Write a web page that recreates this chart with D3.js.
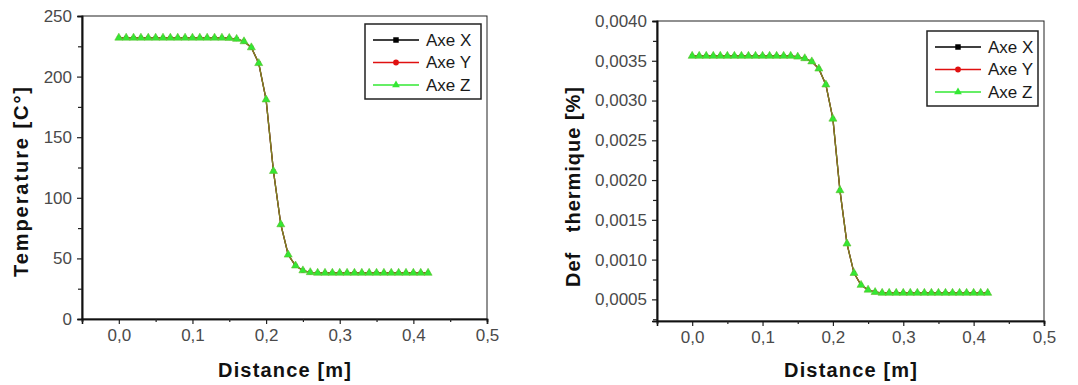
<!DOCTYPE html>
<html>
<head>
<meta charset="utf-8">
<script src="https://cdn.jsdelivr.net/npm/d3@7"></script>
<style>
  body { margin: 0; background: #fff; }
  svg { display: block; font-family: "Liberation Sans", Arial, sans-serif; }
</style>
</head>
<body>
<svg id="chart" width="1078" height="385"></svg>
<script>

// data

var distance = [0.00, 0.01, 0.02, 0.03, 0.04, 0.05, 0.06, 0.07, 0.08, 0.09,
                0.10, 0.11, 0.12, 0.13, 0.14, 0.15, 0.16, 0.17, 0.18, 0.19,
                0.20, 0.21, 0.22, 0.23, 0.24, 0.25, 0.26, 0.27, 0.28, 0.29,
                0.30, 0.31, 0.32, 0.33, 0.34, 0.35, 0.36, 0.37, 0.38, 0.39,
                0.40, 0.41, 0.42];

var temperature = [232, 232, 232, 232, 232, 232, 232, 232, 232, 232,
                   232, 232, 232, 232, 232, 231.8, 231, 229, 224, 211,
                   181, 122, 78, 53, 44, 40, 38.5, 38, 38, 38,
                   38, 38, 38, 38, 38, 38, 38, 38, 38, 38,
                   38, 38, 38];

var defThermique = [0.00356, 0.00356, 0.00356, 0.00356, 0.00356, 0.00356, 0.00356, 0.00356, 0.00356, 0.00356,
                    0.00356, 0.00356, 0.00356, 0.00356, 0.00356, 0.00355, 0.00353, 0.00349, 0.00340, 0.00320,
                    0.00277, 0.00187, 0.00120, 0.00083, 0.00068, 0.00062, 0.00059, 0.00058, 0.00058, 0.00058,
                    0.00058, 0.00058, 0.00058, 0.00058, 0.00058, 0.00058, 0.00058, 0.00058, 0.00058, 0.00058,
                    0.00058, 0.00058, 0.00058];

// the three axes give the same values, so the curves sit on top of each other

var seriesNames = ["Axe X", "Axe Y", "Axe Z"];
var seriesColors = ["#000000", "#e01010", "#33e833"];
var seriesSymbols = [d3.symbolSquare, d3.symbolCircle, d3.symbolTriangle];

var xTicks = [0.0, 0.1, 0.2, 0.3, 0.4, 0.5];
var tempTicks = [0, 50, 100, 150, 200, 250];
var defTicks = [0.0005, 0.0010, 0.0015, 0.0020, 0.0025, 0.0030, 0.0035, 0.0040];

var locale = d3.formatLocale({ decimal: ",", thousands: ".", grouping: [3], currency: ["", ""] });

var svg = d3.select("#chart");

function drawPanel(opts) {

  var x = d3.scaleLinear().domain([-0.05, 0.5]).range([opts.left, opts.right]);
  var y = d3.scaleLinear().domain(opts.yDomain).range([opts.bottom, opts.top]);

  var g = svg.append("g");

  // frame

  g.append("rect")
    .attr("x", opts.left).attr("y", opts.top)
    .attr("width", opts.right - opts.left).attr("height", opts.bottom - opts.top)
    .attr("fill", "none").attr("stroke", "#222").attr("stroke-width", 1);

  // axes

  var xAxis = d3.axisBottom(x).tickValues(xTicks).tickSize(5).tickPadding(5)
    .tickFormat(locale.format(".1f"));
  var xMinor = d3.axisBottom(x).tickValues(d3.range(-0.05, 0.51, 0.1)).tickSize(3).tickFormat("");

  var yAxis = d3.axisLeft(y).tickValues(opts.yTicks).tickSize(5).tickPadding(5)
    .tickFormat(locale.format(opts.yFormat));
  var yMinor = d3.axisLeft(y).tickValues(opts.yMinor).tickSize(4).tickFormat("");

  [[xAxis, "bottom"], [xMinor, "bottom"], [yAxis, "left"], [yMinor, "left"]].forEach(function(a) {
    var ax = g.append("g")
      .attr("transform", a[1] == "bottom" ? "translate(0," + opts.bottom + ")" : "translate(" + opts.left + ",0)")
      .call(a[0]);
    ax.attr("font-size", 17).attr("font-family", "Liberation Sans, Arial, sans-serif");
    ax.select(".domain").attr("stroke", "#111").attr("stroke-width", 1.6);
    ax.selectAll(".tick line").attr("stroke", "#222").attr("stroke-width", 1.2);
    ax.selectAll(".tick text").attr("fill", "#4a4a4a");
  });

  // titles

  g.append("text")
    .attr("x", (opts.left + opts.right) / 2)
    .attr("y", 377)
    .attr("text-anchor", "middle")
    .attr("font-size", 20).attr("font-weight", "bold").attr("fill", "#111")
    .attr("textLength", 133)
    .text("Distance [m]");

  g.append("text")
    .attr("transform", "translate(" + opts.titleX + "," + opts.titleY + ") rotate(-90)")
    .attr("text-anchor", "middle")
    .attr("font-size", 20).attr("font-weight", "bold").attr("fill", "#111")
    .attr("textLength", opts.titleLen)
    .style("white-space", "pre")
    .text(opts.title);

  // curves

  var points = distance.map(function(d, i) { return [d, opts.values[i]]; });

  var line = d3.line()
    .x(function(d) { return x(d[0]); })
    .y(function(d) { return y(d[1]); });

  seriesNames.forEach(function(name, s) {
    g.append("path")
      .datum(points)
      .attr("d", line)
      .attr("fill", "none")
      .attr("stroke", seriesColors[s])
      .attr("stroke-opacity", s == 2 ? 0.55 : 1)
      .attr("stroke-width", 1.3);
  });

  seriesNames.forEach(function(name, s) {
    g.selectAll(".m" + s)
      .data(points)
      .enter()
        .append("path")
          .attr("transform", function(d) { return "translate(" + x(d[0]) + "," + y(d[1]) + ")"; })
          .attr("d", d3.symbol().type(seriesSymbols[s]).size(s == 2 ? 28 : 14))
          .attr("fill", seriesColors[s])
          .attr("stroke", s == 2 ? "#5fc030" : "none")
          .attr("stroke-width", 0.6);
  });

  // legend

  var lg = g.append("g");
  lg.append("rect")
    .attr("x", opts.legend.x).attr("y", opts.legend.y)
    .attr("width", opts.legend.w).attr("height", 75)
    .attr("fill", "#fff").attr("stroke", "#222").attr("stroke-width", 1.5);

  seriesNames.forEach(function(name, s) {
    var ry = opts.legend.y + 16 + s * 22.5;
    var lx = opts.legend.x + 8;
    lg.append("line")
      .attr("x1", lx).attr("x2", lx + 46)
      .attr("y1", ry).attr("y2", ry)
      .attr("stroke", seriesColors[s]).attr("stroke-width", 1.3);
    lg.append("path")
      .attr("transform", "translate(" + (lx + 23) + "," + ry + ")")
      .attr("d", d3.symbol().type(seriesSymbols[s]).size(s == 0 ? 30 : 26))
      .attr("fill", seriesColors[s]);
    lg.append("text")
      .attr("x", lx + 53)
      .attr("y", ry)
      .attr("dy", "0.35em")
      .attr("font-size", 17).attr("fill", "#1a1a1a")
      .text(name);
  });
}

drawPanel({
  left: 82, right: 487, top: 16, bottom: 319,
  yDomain: [0, 250],
  yTicks: tempTicks,
  yMinor: d3.range(25, 250, 50),
  yFormat: "d",
  values: temperature,
  title: "Temperature [C°]",
  titleX: 28, titleY: 182, titleLen: 190,
  legend: { x: 365, y: 24, w: 116 }
});

drawPanel({
  left: 657, right: 1044, top: 21, bottom: 321,
  yDomain: [0.000228, 0.004],
  yTicks: defTicks,
  yMinor: [0.00025, 0.00075, 0.00125, 0.00175, 0.00225, 0.00275, 0.00325, 0.00375],
  yFormat: ".4f",
  values: defThermique,
  title: "Def   thermique [%]",
  titleX: 580, titleY: 187, titleLen: 200,
  legend: { x: 927, y: 31, w: 111 }
});

</script>
</body>
</html>
